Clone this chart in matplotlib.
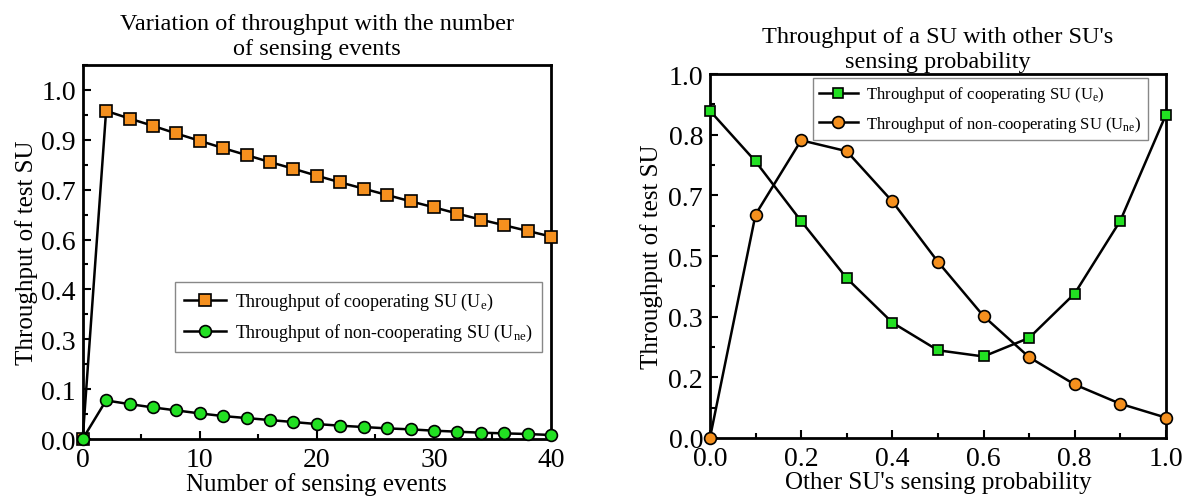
import matplotlib
matplotlib.use("Agg")
import matplotlib.pyplot as plt
import numpy as np
from matplotlib.ticker import AutoMinorLocator

plt.rcParams['font.family'] = ['Liberation Serif', 'DejaVu Serif']
plt.rcParams['mathtext.fontset'] = 'custom'
plt.rcParams['mathtext.rm'] = 'Liberation Serif'
plt.rcParams['mathtext.it'] = 'Liberation Serif:italic'

# Venstre figur: antall sensing-hendelser
events = [0, 2, 4, 6, 8, 10, 12, 14, 16, 18, 20, 22, 24, 26, 28, 30, 32, 34, 36, 38, 40]
coop_events = [0.0, 0.987, 0.964, 0.942, 0.919, 0.897, 0.875, 0.854, 0.833, 0.813, 0.792,
               0.772, 0.753, 0.734, 0.715, 0.697, 0.678, 0.660, 0.643, 0.626, 0.609]
noncoop_events = [0.0, 0.116, 0.105, 0.095, 0.086, 0.077, 0.069, 0.063, 0.057, 0.051, 0.045,
                  0.040, 0.036, 0.032, 0.029, 0.025, 0.022, 0.019, 0.017, 0.015, 0.012]
left_yticks = [0.0, 0.15, 0.30, 0.45, 0.60, 0.75, 0.90, 1.05]
left_yticklabels = ['0.0', '0.1', '0.3', '0.4', '0.6', '0.7', '0.9', '1.0']

# Høyre figur: andre SU sin sensing-sannsynlighet
prob = [0.0, 0.1, 0.2, 0.3, 0.4, 0.5, 0.6, 0.7, 0.8, 0.9, 1.0]
coop_prob = [0.899, 0.760, 0.596, 0.439, 0.317, 0.241, 0.224, 0.275, 0.397, 0.597, 0.888]
noncoop_prob = [0.0, 0.614, 0.818, 0.788, 0.650, 0.484, 0.335, 0.222, 0.147, 0.094, 0.056]
right_yticks = [0, 1/6, 2/6, 3/6, 4/6, 5/6, 1.0]
right_yticklabels = ['0.0', '0.2', '0.3', '0.5', '0.7', '0.8', '1.0']

orange = '#f5901e'
green = '#22e022'
lab_e = r'Throughput of cooperating SU (U$_\mathregular{e}$)'
lab_ne = r'Throughput of non-cooperating SU (U$_\mathregular{ne}$)'

fig = plt.figure(figsize=(11.88, 5.02), dpi=100)

def style(ax):
    ax.tick_params(which='both', direction='in', labelsize=20, width=1.5)
    ax.tick_params(which='major', length=6)
    ax.tick_params(which='minor', length=3.5)
    ax.tick_params(axis='x', pad=6)
    ax.tick_params(axis='y', pad=5)
    ax.xaxis.set_minor_locator(AutoMinorLocator(2))
    ax.yaxis.set_minor_locator(AutoMinorLocator(2))
    for s in ax.spines.values():
        s.set_linewidth(2)

ax1 = fig.add_axes([0.0696, 0.1235, 0.3942, 0.745])
ax1.plot(events, coop_events, '-s', color='black', lw=1.8, ms=8,
         mfc=orange, mec='black', mew=1.2, label=lab_e, clip_on=False, zorder=3)
ax1.plot(events, noncoop_events, '-o', color='black', lw=1.8, ms=8.5,
         mfc=green, mec='black', mew=1.2, label=lab_ne, clip_on=False, zorder=3)
ax1.set_xlim(0, 40)
ax1.set_ylim(0, 1.125)
ax1.set_xticks([0, 10, 20, 30, 40])
ax1.set_yticks(left_yticks)
ax1.set_yticklabels(left_yticklabels)
style(ax1)
ax1.set_xlabel('Number of sensing events', fontsize=18, labelpad=0)
ax1.set_ylabel('Throughput of test SU', fontsize=18, labelpad=2)
ax1.set_title('Variation of throughput with the number\nof sensing events', fontsize=17.5,
              pad=8, linespacing=1.25)
ax1.legend(loc='upper right', bbox_to_anchor=(0.98, 0.42), fontsize=13,
           fancybox=False, framealpha=1, edgecolor='#888888', handlelength=2.3,
           borderpad=0.5, labelspacing=0.55, handletextpad=0.5, borderaxespad=0)

ax2 = fig.add_axes([0.5976, 0.1255, 0.3838, 0.725])
ax2.plot(prob, coop_prob, '-s', color='black', lw=1.8, ms=6.5,
         mfc=green, mec='black', mew=1.2, label=lab_e, clip_on=False, zorder=3)
ax2.plot(prob, noncoop_prob, '-o', color='black', lw=1.8, ms=8.5,
         mfc=orange, mec='black', mew=1.2, label=lab_ne, clip_on=False, zorder=3)
ax2.set_xlim(0, 1.0)
ax2.set_ylim(0, 1.0)
ax2.set_xticks([0.0, 0.2, 0.4, 0.6, 0.8, 1.0])
ax2.set_yticks(right_yticks)
ax2.set_yticklabels(right_yticklabels)
style(ax2)
ax2.set_xlabel("Other SU's sensing probability", fontsize=18, labelpad=0)
ax2.set_ylabel('Throughput of test SU', fontsize=18, labelpad=4)
ax2.set_title("Throughput of a SU with other SU's\nsensing probability", fontsize=17.5,
              pad=5, linespacing=1.25)
ax2.legend(loc='upper right', bbox_to_anchor=(0.96, 0.99), fontsize=12,
           fancybox=False, framealpha=1, edgecolor='#888888', handlelength=2.3,
           borderpad=0.4, labelspacing=0.55, handletextpad=0.5, borderaxespad=0)

fig.savefig('out.png', dpi=100)
